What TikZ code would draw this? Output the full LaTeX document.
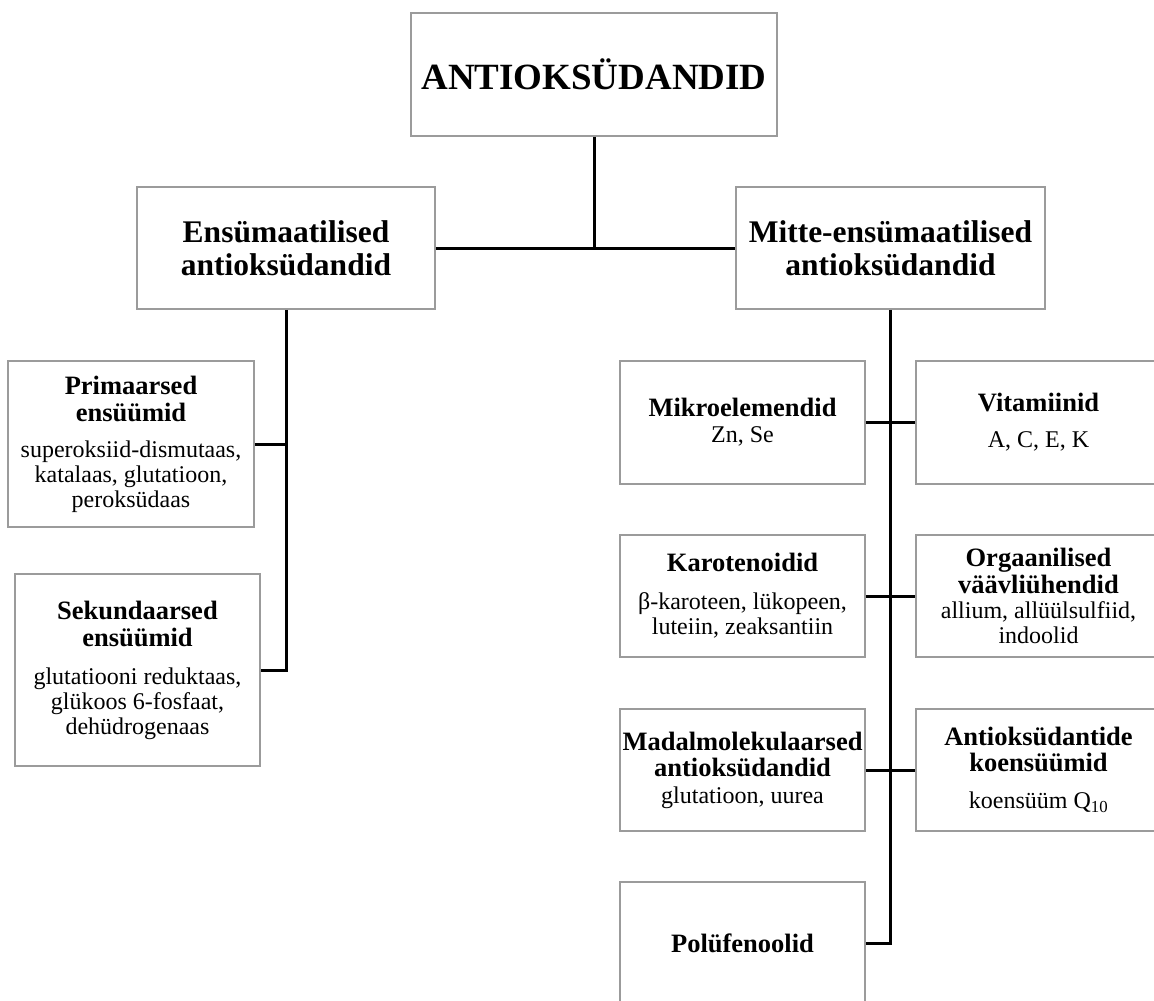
\documentclass[tikz,border=0pt]{standalone}
\usepackage{fontspec}
\setmainfont{Liberation Serif}
\definecolor{boxgray}{RGB}{155,155,155}
\newcommand\hd[1]{{\bfseries\fontsize{26.5}{27}\selectfont #1}}
\tikzset{
  box/.style={draw=boxgray, line width=1.6pt, fill=white, inner sep=0pt, align=center,
    font=\fontsize{24}{25}\selectfont, minimum width=245pt},
  lvltwo/.style={box, font=\bfseries\fontsize{31.5}{33}\selectfont, minimum height=122pt},
  conn/.style={line width=3pt, black, line join=miter}
}
\begin{document}
\begin{tikzpicture}[x=1pt, y=-1pt]
\clip (0,0) rectangle (1154,1001);
\fill[white] (0,0) rectangle (1154,1001);
% top
\node[box, font=\bfseries\fontsize{37}{40}\selectfont, minimum width=366pt, minimum height=123pt] (top) at (594,74.5) {ANTIOKSÜDANDID};
% level 2
\node[lvltwo, minimum width=298pt] (ensum) at (286,248) {Ensümaatilised\\antioksüdandid};
\node[lvltwo, minimum width=309pt] (mitte) at (890.5,248) {Mitte-ensümaatilised\\antioksüdandid};
% left branch
\node[box, minimum width=246pt, minimum height=166pt] (prim) at (131,444)
  {\hd{Primaarsed}\\[2pt]\hd{ensüümid}\\[11pt]superoksiid-dismutaas,\\katalaas, glutatioon,\\peroksüdaas};
\node[box, minimum height=192pt] (sek) at (137.5,670)
  {\hd{Sekundaarsed}\\[2pt]\hd{ensüümid}\\[13pt]glutatiooni reduktaas,\\glükoos 6-fosfaat,\\dehüdrogenaas};
% right branch
\node[box, minimum height=123pt] (mikro) at (742.5,422.5) {\hd{Mikroelemendid}\\[1pt]Zn, Se};
\node[box, minimum height=123pt] (vita) at (1038.5,422.5) {\hd{Vitamiinid}\\[11pt]A, C, E, K};
\node[box, minimum height=122pt] (karo) at (742.5,596) {\hd{Karotenoidid}\\[13pt]β-karoteen, lükopeen,\\luteiin, zeaksantiin};
\node[box, minimum height=122pt] (org) at (1038.5,596) {\hd{Orgaanilised}\\[2pt]\hd{väävliühendid}\\allium, allüülsulfiid,\\indoolid};
\node[box, minimum height=122pt] (madal) at (742.5,770) {\hd{Madalmolekulaarsed}\\[1pt]\hd{antioksüdandid}\\[2pt]glutatioon, uurea};
\node[box, minimum height=122pt] (antiok) at (1038.5,770) {\hd{Antioksüdantide}\\[1pt]\hd{koensüümid}\\[12pt]koensüüm Q\textsubscript{10}};
\node[box, minimum height=123pt] (poly) at (742.5,943.5) {\hd{Polüfenoolid}};
% connectors
\draw[conn] (top.south) -- (top.south |- ensum.east);
\draw[conn] (ensum.east) -- (mitte.west);
\draw[conn] (ensum.south) -- (ensum.south |- sek.east) -- (sek.east);
\draw[conn] (prim.east) -- (prim.east -| ensum.south);
\draw[conn] (mitte.south) -- (mitte.south |- poly.east) -- (poly.east);
\draw[conn] (mikro.east) -- (vita.west);
\draw[conn] (karo.east) -- (org.west);
\draw[conn] (madal.east) -- (antiok.west);
\end{tikzpicture}
\end{document}
